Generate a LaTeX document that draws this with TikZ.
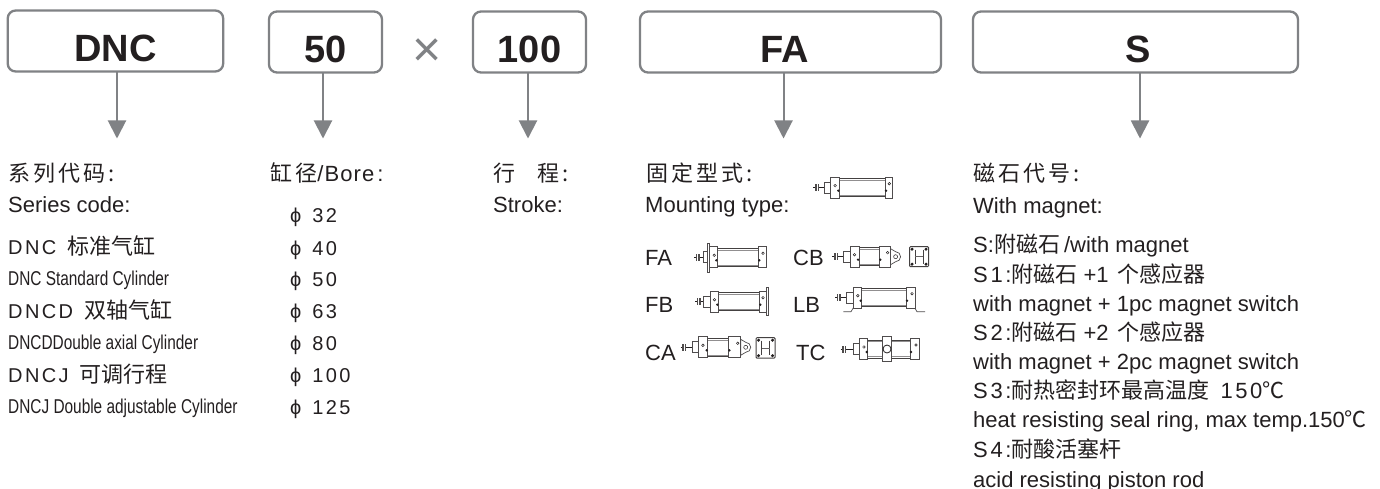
\documentclass[tikz,border=0pt]{standalone}
\usepackage{fontspec}
\usepackage{graphicx}
\usetikzlibrary{arrows.meta}
\setmainfont{Liberation Sans}
\newfontfamily\cjkf{Noto Sans CJK SC}
\newfontfamily\cjkw[LetterSpace=14]{Noto Sans CJK SC}
\newfontfamily\lsp[LetterSpace=12]{Liberation Sans}
\newfontfamily\lsq[LetterSpace=5]{Liberation Sans}
\newcommand\fs[1]{\fontsize{#1}{#1}\selectfont}
\newcommand\cn[1]{{\cjkf #1}}
\newcommand\cw[1]{{\cjkw #1}}
\newcommand\spc[1]{{\lsp #1}}
\newcommand\cond[1]{\scalebox{0.77}[1]{\fs{20}#1}}
\definecolor{ink}{HTML}{231F20}
\definecolor{ash}{HTML}{808285}
\tikzset{
 x=1pt,y=-1pt,
 codebox/.style={draw=ash,line width=2.3pt,rounded corners=8pt,inner sep=0pt,outer sep=0pt,text=ink,
   font=\fs{38}\bfseries,text height=41pt,text depth=0pt,minimum height=61pt,anchor=north west},
 flow/.style={draw=ash,line width=2pt,-{Triangle[width=18pt,length=18pt,fill=ash]}},
 txt/.style={anchor=base west,inner sep=0pt,text=ink,font=\fs{22}},
 part/.style={draw=ink!80,line width=.7pt,fill=white},
 tube/.style={draw=ink!85,line width=1pt},
 dot/.style={fill=ink,draw=none},
 ring/.style={draw=ink,line width=.5pt,fill=white},
}
% origin x, origin y, flange left, tube left, tube right, end right
\newcommand\cylpic[6]{%
 \begin{scope}[shift={(#1,#2)}]
  \draw[line width=1pt,ink] (0,0) -- (#3-6,0);
  \fill[ink!80] (1.5,-3.5) rectangle (5.5,3.5);
  \draw[white,line width=.5pt] (3.5,-3.5) -- (3.5,3.5);
  \draw[part] (#3-6.5,-5.5) rectangle (#3,5.5);
  \draw[tube] (#4,-9) -- (#5,-9) (#4,9) -- (#5,9);
  \draw[ink!50,line width=.5pt] (#4,-7.5) -- (#5,-7.5) (#4,7.5) -- (#5,7.5);
  \draw[part] (#3,-10.5) rectangle (#4,10.5);
  \draw[part] (#5,-10.5) rectangle (#6,10.5);
  \draw[ring] (#3+4.5,-2) circle (1.3);
  \fill[dot] (#4-1,3) circle (1.3);
  \draw[ring] (#6-3,-4) circle (1.3);
  \fill[dot] (#5+1,3) circle (1.3);
 \end{scope}}
\newcommand\cleviseye[3]{% origin, x of end
 \begin{scope}[shift={(#1,#2)}]
  \draw[part] (#3,-8) -- (#3+5,-5) arc[start angle=-90,end angle=90,radius=5] -- (#3,8) -- cycle;
  \draw[ring] (#3+5,0) circle (2);
 \end{scope}}
\newcommand\squareview[4]{% x, y, width, height
 \begin{scope}[shift={(#1,#2)}]
  \draw[draw=ink!85,line width=1pt,fill=white,rounded corners=1pt] (0,0) rectangle (#3,#4);
  \draw[ink!85,line width=1pt] (5.5,3) -- (5.5,#4-3) (#3-5.5,3) -- (#3-5.5,#4-3);
  \draw[ink!70,line width=.6pt] (5.5,#4/2) -- (#3-5.5,#4/2);
  \foreach \px in {2.5,#3-2.5}\foreach \py in {2.5,#4-2.5}\fill[ink] (\px,\py) circle (1.7);
 \end{scope}}
\begin{document}
\begin{tikzpicture}
\useasboundingbox (0,0) rectangle (1380,489);
\fill[white] (0,0) rectangle (1380,489);

% code boxes
\node[codebox,minimum width=215.5pt] (dnc) at (7.7,10.5) {DNC};
\node[codebox,minimum width=113pt] (fifty) at (269,11.5) {50};
\node[codebox,minimum width=113pt] (stroke) at (473,11.5) {100};
\node[codebox,minimum width=301pt] (fa) at (640,11.5) {\hspace{-12pt}FA};
\node[codebox,minimum width=325pt] (mag) at (973,11.5) {\hspace{6pt}S};
\node[inner sep=0pt,text=ash,font=\fs{50}] (times) at (427,53) {×};

% arrows
\coordinate (t1) at (117,138.5);
\coordinate (t2) at (323,138.5);
\coordinate (t3) at (528,138.5);
\coordinate (t4) at (783.5,138.5);
\coordinate (t5) at (1140,138.5);
\draw[flow] (dnc.south -| t1) -- (t1);
\draw[flow] (fifty.south -| t2) -- (t2);
\draw[flow] (stroke.south -| t3) -- (t3);
\draw[flow] (fa.south -| t4) -- (t4);
\draw[flow] (mag.south -| t5) -- (t5);

% column 1
\node[txt] (a1) at (8,182) {\cw{系列代码:}};
\node[txt] (a2) at (8,212) {Series code:};
\node[txt] (a3) at (8,254) {{\lsp\fs{20}DNC}\hspace{11pt}\cn{标准气缸}};
\node[txt] (a4) at (8,285) {\cond{DNC Standard Cylinder}};
\node[txt] (a5) at (8,318) {{\lsp\fs{20}DNCD}\hspace{11pt}\cn{双轴气缸}};
\node[txt] (a6) at (8,349) {\cond{DNCDDouble axial Cylinder}};
\node[txt] (a7) at (8,382) {{\lsp\fs{20}DNCJ}\hspace{11pt}\cn{可调行程}};
\node[txt] (a8) at (8,413) {\cond{DNCJ Double adjustable Cylinder}};

% column 2
\node[txt] (b0) at (270,182) {\cw{缸径}{\lsq/Bore}\hspace{3pt}:};
\node[txt,font=\fs{20}] (b1) at (290,222) {ϕ\hspace{11pt}\spc{32}};
\node[txt,font=\fs{20}] (b2) at (290,255) {ϕ\hspace{11pt}\spc{40}};
\node[txt,font=\fs{20}] (b3) at (290,286) {ϕ\hspace{11pt}\spc{50}};
\node[txt,font=\fs{20}] (b4) at (290,318) {ϕ\hspace{11pt}\spc{63}};
\node[txt,font=\fs{20}] (b5) at (290,350) {ϕ\hspace{11pt}\spc{80}};
\node[txt,font=\fs{20}] (b6) at (290,382) {ϕ\hspace{11pt}\spc{100}};
\node[txt,font=\fs{20}] (b7) at (290,414) {ϕ\hspace{11pt}\spc{125}};

% column 3
\node[txt] (c1) at (493,182) {\cn{行}\hspace{22pt}\cw{程:}};
\node[txt] (c2) at (493,212) {Stroke:};

% column 4
\node[txt] (d1) at (646,182) {\cw{固定型式:}};
\node[txt] (d2) at (645,212) {Mounting type:};
\node[txt] (fa1) at (645,265) {FA};
\node[txt] (fb1) at (645,312) {FB};
\node[txt] (ca1) at (645,360) {CA};
\node[txt] (cb1) at (793,265) {CB};
\node[txt] (lb1) at (793,312) {LB};
\node[txt] (tc1) at (796,360) {TC};

\cylpic{813.3}{187.7}{17.3}{26}{71.7}{79}
% FA
\cylpic{694}{257.3}{15.7}{23.3}{64.3}{72}
\draw[part] (694+13.3,243) rectangle (694+15.7,272);
% FB
\cylpic{695}{301.7}{15}{23.3}{64.3}{71}
\draw[part] (695+71,287.5) rectangle (695+73.7,315.5);
% CB
\cleviseye{832.3}{256.7}{58.3}
\cylpic{832.3}{256.7}{17.7}{26.7}{47}{58.3}
\squareview{909.5}{246.7}{19}{20}
% LB
\draw[part,fill=none] (835+8.3,311.7) -- (835+16,311.7) -- (835+20,305);
\draw[part,fill=none] (835+90,311.7) -- (835+82,311.7) -- (835+78,305);
\cylpic{835}{297.7}{18.3}{26.7}{71}{80}
% CA
\cleviseye{680.7}{347.3}{60}
\cylpic{680.7}{347.3}{17.7}{27}{47.7}{60}
\squareview{756}{337.7}{19}{20.5}
% TC
\cylpic{840.7}{349}{18.7}{27}{69.3}{78.3}
\draw[part] (840.7+41.7,336.5) rectangle (840.7+51,361.5);
\draw[ring,line width=.8pt] (840.7+46.3,349) circle (4);

% column 5
\node[txt] (e1) at (973,182) {\cw{磁石代号:}};
\node[txt] (e2) at (973,213) {With magnet:};
\node[txt] (e3) at (973,252) {S:\cn{附磁石}\hspace{4pt}/with magnet};
\node[txt] (e4) at (973,282) {\spc{S1:}\cn{附磁石}\hspace{6pt}+1\hspace{9pt}\cn{个感应器}};
\node[txt] (e5) at (973,311) {with magnet + 1pc magnet switch};
\node[txt] (e6) at (973,340) {\spc{S2:}\cn{附磁石}\hspace{6pt}+2\hspace{9pt}\cn{个感应器}};
\node[txt] (e7) at (973,369) {with magnet + 2pc magnet switch};
\node[txt] (e8) at (973,398) {\spc{S3:}\cn{耐热密封环最高温度}\hspace{11pt}\spc{150}\cn{℃}};
\node[txt] (e9) at (973,427) {heat resisting seal ring, max temp.150\cn{℃}};
\node[txt] (e10) at (973,457) {\spc{S4:}\cn{耐酸活塞杆}};
\node[txt] (e11) at (973,487) {acid resisting piston rod};
\end{tikzpicture}
\end{document}
